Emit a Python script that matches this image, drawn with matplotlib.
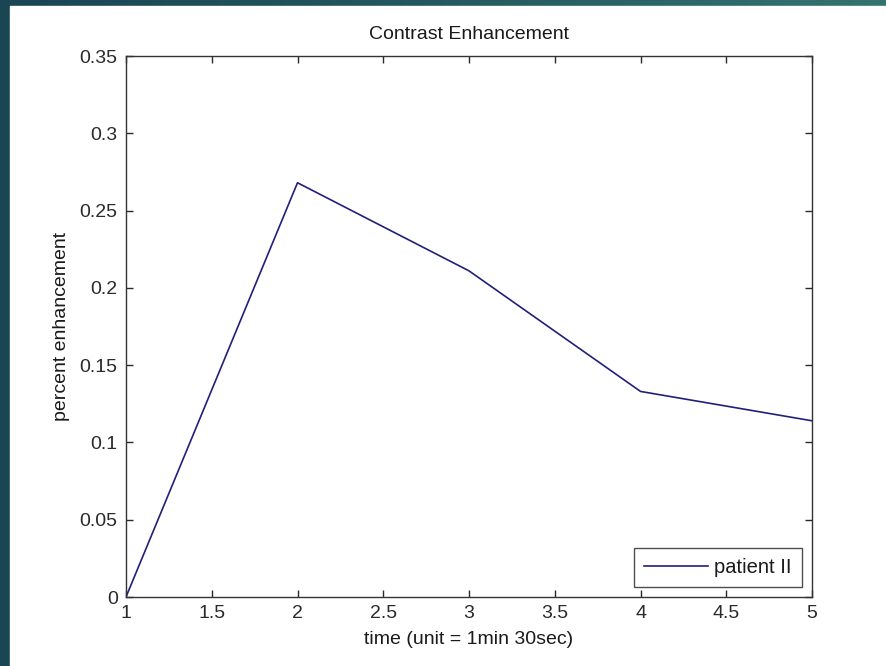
import numpy as np
import matplotlib.pyplot as plt
from matplotlib.colors import LinearSegmentedColormap
from matplotlib.patches import Rectangle

plt.rcParams['font.family'] = ['Liberation Sans', 'DejaVu Sans']

# data
time = [1, 2, 3, 4, 5]
enhancement = [0.0, 0.268, 0.211, 0.133, 0.114]
xticks = [1, 1.5, 2, 2.5, 3, 3.5, 4, 4.5, 5]
yticks = [0, 0.05, 0.1, 0.15, 0.2, 0.25, 0.3, 0.35]

W, H = 886, 666
fs = 14
fig = plt.figure(figsize=(W / 100, H / 100), dpi=100)

# slide background (teal gradient) + white figure area
bg = fig.add_axes([0, 0, 1, 1], zorder=-10)
teal = LinearSegmentedColormap.from_list('teal', ['#1a4553', '#25595f', '#347370'])
bg.imshow(np.linspace(0, 1, 256).reshape(1, -1), aspect='auto', cmap=teal,
          extent=[0, 1, 0, 1])
bg.set_xlim(0, 1)
bg.set_ylim(0, 1)
bg.add_patch(Rectangle((10 / W, 0), 1, (H - 6) / H, color='white'))
bg.axis('off')

ax = fig.add_axes([126 / W, (H - 597) / H, (812 - 126) / W, (597 - 56) / H])
ax.plot(time, enhancement, color='#20207a', lw=1.2, label='patient II')
ax.set_xlim(1, 5)
ax.set_ylim(0, 0.35)
ax.set_xticks(xticks)
ax.set_xticklabels(['1', '1.5', '2', '2.5', '3', '3.5', '4', '4.5', '5'])
ax.set_yticks(yticks)
ax.set_yticklabels(['0', '0.05', '0.1', '0.15', '0.2', '0.25', '0.3', '0.35'])
ax.tick_params(direction='in', top=True, right=True, length=5, labelsize=fs,
               colors='#2a2a2a', width=1)
ax.tick_params(axis='x', pad=6)
ax.tick_params(axis='y', pad=6)
for s in ax.spines.values():
    s.set_color('#333333')
    s.set_linewidth(1)
ax.set_title('Contrast Enhancement', fontsize=fs, pad=12, color='#1a1a1a')
ax.set_xlabel('time (unit = 1min 30sec)', fontsize=fs, labelpad=6, color='#1a1a1a')
ax.set_ylabel('percent enhancement', fontsize=fs, labelpad=7, color='#1a1a1a')
leg = ax.legend(loc='lower right', fancybox=False, edgecolor='#222222',
                fontsize=14.5, borderaxespad=0.5, handlelength=3.2,
                handletextpad=0.3, borderpad=0.5)
leg.get_frame().set_linewidth(1)
for t in leg.get_texts():
    t.set_color('#1a1a1a')

fig.savefig('out.png', dpi=100)
